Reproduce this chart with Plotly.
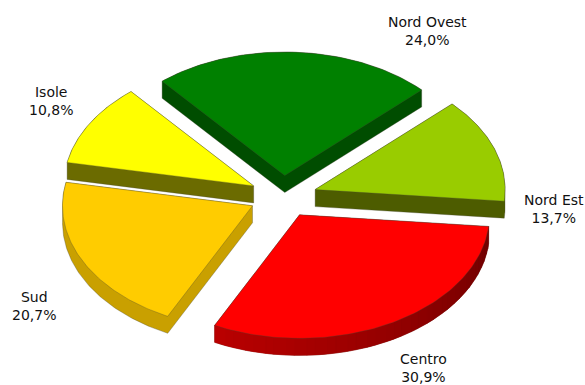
import numpy as np
import plotly.graph_objects as go

regions = ["Nord Ovest", "Nord Est", "Centro", "Sud", "Isole"]
shares = [24.0, 13.7, 30.9, 20.7, 10.8]
clipped_title = "oluoghi"

top_colors = {"Nord Ovest": "#008000", "Nord Est": "#99cc00", "Centro": "#ff0000", "Sud": "#ffcc00", "Isole": "#ffff00"}
wall_colors = {"Nord Ovest": "#004d00", "Nord Est": "#4d5c00", "Centro": "#990000", "Sud": "#c9a000", "Isole": "#6b6b00"}
label_pos = {"Nord Ovest": (427, 31), "Nord Est": (554, 209), "Centro": (423, 368), "Sud": (34, 306), "Isole": (51, 101)}
draw_order = ["Nord Ovest", "Isole", "Nord Est", "Sud", "Centro"]

CX, CY, RX, RY = 283.0, 196.5, 190.0, 123.5
EX, EY, DEPTH = 34.0, 21.0, 17.0
START = np.radians(130.2)
EDGE = "rgba(70,70,50,0.4)"


def hull(points):
    pts = sorted(set(map(tuple, np.round(points, 3))))
    def half(seq):
        out = []
        for p in seq:
            while len(out) > 1 and (out[-1][0]-out[-2][0])*(p[1]-out[-2][1]) - (out[-1][1]-out[-2][1])*(p[0]-out[-2][0]) <= 0:
                out.pop()
            out.append(p)
        return out[:-1]
    return np.array(half(pts) + half(pts[::-1]))


def poly(fig, x, y, color, line=EDGE, width=0.8):
    fig.add_trace(go.Scatter(x=np.r_[x, x[0]], y=np.r_[y, y[0]], mode="lines", fill="toself",
                             fillcolor=color, line=dict(color=line, width=width), hoverinfo="skip", showlegend=False))


total = sum(shares)
angles = {}
a = START
for name, v in zip(regions, shares):
    b = a - 2*np.pi*v/total
    angles[name] = (a, b)
    a = b

fig = go.Figure()
for name in draw_order:
    a, b = angles[name]
    mid = (a+b)/2
    ax, ay = CX + EX*np.cos(mid), CY - EY*np.sin(mid)
    t = np.linspace(a, b, 90)
    arc_x, arc_y = ax + RX*np.cos(t), ay - RY*np.sin(t)
    x = np.r_[ax, arc_x]
    y = np.r_[ay, arc_y]
    pts = np.c_[np.r_[x, x], np.r_[y, y+DEPTH]]
    h = hull(pts)
    poly(fig, h[:, 0], h[:, 1], wall_colors[name])
    if name == "Centro":
        # darker towards the right-hand end of the rim
        n = 36
        for i in range(n):
            i0, i1 = i*89//n, (i+1)*89//n
            f = i/(n-1)
            shade = int(110 + 75*f)
            qx = np.r_[arc_x[i0:i1+1], arc_x[i0:i1+1][::-1]]
            qy = np.r_[arc_y[i0:i1+1], arc_y[i0:i1+1][::-1]+DEPTH]
            c = f"rgb({shade},0,0)"
            poly(fig, qx, qy, c, line=c, width=0.5)
    poly(fig, x, y, top_colors[name])

annotations = [dict(x=label_pos[n][0], y=label_pos[n][1], text=f"{n}<br>{v:.1f}%".replace(".", ","),
                    showarrow=False, xanchor="center", yanchor="middle", align="center",
                    font=dict(family="DejaVu Sans", size=14, color="#111111"))
               for n, v in zip(regions, shares)]
annotations.append(dict(x=-1, y=5, text=clipped_title, showarrow=False, xanchor="left", yanchor="middle",
                        font=dict(family="DejaVu Sans", size=15.5, color="#111111")))

fig.update_layout(width=585, height=385, margin=dict(l=0, r=0, t=0, b=0), paper_bgcolor="white",
                  plot_bgcolor="white", showlegend=False, annotations=annotations,
                  xaxis=dict(range=[0, 585], visible=False, fixedrange=True),
                  yaxis=dict(range=[385, 0], visible=False, fixedrange=True))
fig.write_html("out.html", config=dict(displayModeBar=False),
               post_script="document.body.style.margin='0';")
